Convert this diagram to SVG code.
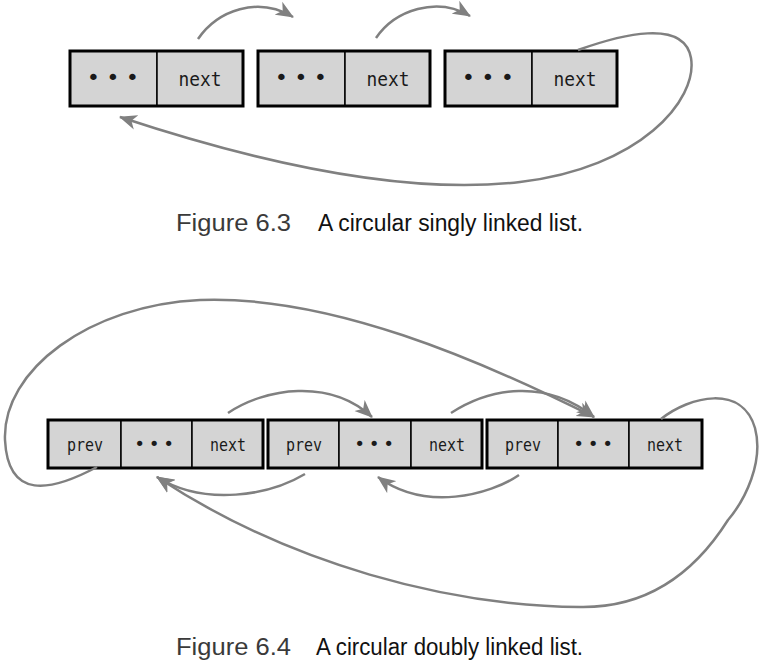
<svg xmlns="http://www.w3.org/2000/svg" width="759" height="662" viewBox="0 0 759 662">
<defs>
<marker id="ah" markerUnits="userSpaceOnUse" markerWidth="20" markerHeight="16" refX="17" refY="8" orient="auto">
<path d="M0,0.5 L18,8 L0,15.5 L5,8 Z" fill="#808080"/>
</marker>
<style>
.cell{fill:#d4d4d4;stroke:#000;stroke-width:1.5}
.box{fill:none;stroke:#000;stroke-width:3}
.lbl{font-family:"DejaVu Sans Mono","Liberation Mono",monospace;fill:#1a1a1a;text-anchor:middle}
.big{font-size:20px}
.sm{font-size:17px}
.dbig{font-size:22px}
.dsm{font-size:18px}
.arr{fill:none;stroke:#808080;stroke-width:2.5;marker-end:url(#ah)}
.fig{font-family:"Liberation Sans",Arial,sans-serif;fill:#3a3a3a;font-size:23px}
.cap{font-family:"Liberation Sans",Arial,sans-serif;fill:#111;font-size:23px}
</style>
</defs>

<g id="s-node1">
<rect class="cell" x="70" y="51" width="87" height="55"/>
<rect class="cell" x="157" y="51" width="86" height="55"/>
<rect class="box" x="70" y="51" width="173" height="55"/>
<text class="lbl dbig" x="116" y="85" letter-spacing="6.3">•••</text>
<text class="lbl big" x="200" y="86" textLength="43" lengthAdjust="spacingAndGlyphs">next</text>
</g>
<g id="s-node2">
<rect class="cell" x="258" y="51" width="87" height="55"/>
<rect class="cell" x="345" y="51" width="85" height="55"/>
<rect class="box" x="258" y="51" width="172" height="55"/>
<text class="lbl dbig" x="304" y="85" letter-spacing="6.3">•••</text>
<text class="lbl big" x="388" y="86" textLength="43" lengthAdjust="spacingAndGlyphs">next</text>
</g>
<g id="s-node3">
<rect class="cell" x="445" y="51" width="87" height="55"/>
<rect class="cell" x="532" y="51" width="85" height="55"/>
<rect class="box" x="445" y="51" width="172" height="55"/>
<text class="lbl dbig" x="491" y="85" letter-spacing="6.3">•••</text>
<text class="lbl big" x="575" y="86" textLength="43" lengthAdjust="spacingAndGlyphs">next</text>
</g>

<g id="s-connectors">
<path class="arr" d="M198,39 C218,10 258,-4 293,17"/>
<path class="arr" d="M376,38 C395,10 437,-4 470,16"/>
<path class="arr" d="M578,50 C620,35 684,18 691,58 C698,100 640,168 520,182 C400,196 250,160 120,117"/>
</g>

<g id="caption1">
<text class="fig" x="176" y="231" textLength="115" lengthAdjust="spacingAndGlyphs">Figure 6.3</text>
<text class="cap" x="318" y="231" textLength="265" lengthAdjust="spacingAndGlyphs">A circular singly linked list.</text>
</g>

<g id="d-node1">
<rect class="cell" x="48" y="420" width="73" height="48"/>
<rect class="cell" x="121" y="420" width="71" height="48"/>
<rect class="cell" x="192" y="420" width="71" height="48"/>
<rect class="box" x="48" y="420" width="215" height="48"/>
<text class="lbl sm" x="85" y="451" textLength="36" lengthAdjust="spacingAndGlyphs">prev</text>
<text class="lbl dsm" x="156" y="450" letter-spacing="3.7">•••</text>
<text class="lbl sm" x="228" y="451" textLength="36" lengthAdjust="spacingAndGlyphs">next</text>
</g>
<g id="d-node2">
<rect class="cell" x="268" y="420" width="71" height="48"/>
<rect class="cell" x="339" y="420" width="72" height="48"/>
<rect class="cell" x="411" y="420" width="71" height="48"/>
<rect class="box" x="268" y="420" width="214" height="48"/>
<text class="lbl sm" x="304" y="451" textLength="36" lengthAdjust="spacingAndGlyphs">prev</text>
<text class="lbl dsm" x="376" y="450" letter-spacing="3.7">•••</text>
<text class="lbl sm" x="447" y="451" textLength="36" lengthAdjust="spacingAndGlyphs">next</text>
</g>
<g id="d-node3">
<rect class="cell" x="487" y="420" width="71" height="48"/>
<rect class="cell" x="558" y="420" width="71" height="48"/>
<rect class="cell" x="629" y="420" width="73" height="48"/>
<rect class="box" x="487" y="420" width="215" height="48"/>
<text class="lbl sm" x="523" y="451" textLength="36" lengthAdjust="spacingAndGlyphs">prev</text>
<text class="lbl dsm" x="595" y="450" letter-spacing="3.7">•••</text>
<text class="lbl sm" x="665" y="451" textLength="36" lengthAdjust="spacingAndGlyphs">next</text>
</g>

<g id="d-connectors">
<path class="arr" d="M228,413 C265,388 330,378 372,417"/>
<path class="arr" d="M451,413 C490,388 545,378 594,417"/>
<path class="arr" d="M97,467 C50,492 8,500 5,440 C2,370 90,305 200,300 C330,295 480,360 594,417"/>
<path class="arr" d="M305,474 C270,495 205,507 157,477"/>
<path class="arr" d="M519,475 C490,495 425,512 378,477"/>
<path class="arr" d="M661,419 C690,396 742,384 755,428 C764,462 745,500 728,520 C690,580 640,608 580,607 C450,606 290,565 157,477"/>
</g>

<g id="caption2">
<text class="fig" x="176" y="655" textLength="115" lengthAdjust="spacingAndGlyphs">Figure 6.4</text>
<text class="cap" x="316" y="655" textLength="267" lengthAdjust="spacingAndGlyphs">A circular doubly linked list.</text>
</g>
</svg>
